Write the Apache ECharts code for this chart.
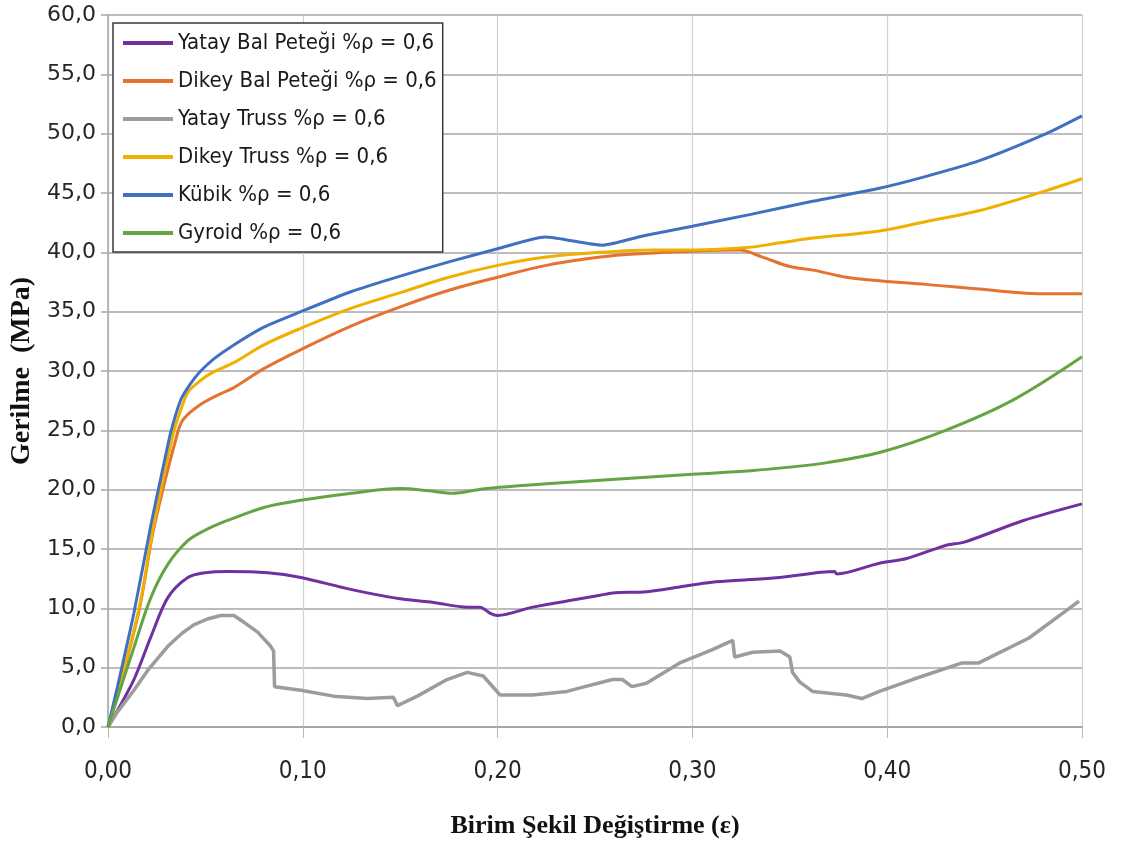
<!DOCTYPE html>
<html>
<head>
<meta charset="utf-8">
<title>Gerilme - Birim Şekil Değiştirme</title>
<script src="https://cdn.jsdelivr.net/npm/echarts@6/dist/echarts.min.js"></script>
<style>
  html, body { margin: 0; padding: 0; background: #ffffff; }
  #chart { width: 1122px; height: 847px; }
</style>
</head>
<body>
<div id="chart"></div>
<script>
// Stress–strain curves, [strain (ε), stress (MPa)]
const seriesNames = [
  'Yatay Bal Peteği %ρ = 0,6',
  'Dikey Bal Peteği %ρ = 0,6',
  'Yatay Truss %ρ = 0,6',
  'Dikey Truss %ρ = 0,6',
  'Kübik %ρ = 0,6',
  'Gyroid %ρ = 0,6'
];

const yatayBalPetegi = [
  [0,0],[0.0133,4.0],[0.022,7.6],[0.0307,10.9],[0.041,12.6],[0.05,13.0],[0.0615,13.1],
  [0.082,13.0],[0.099,12.6],[0.1245,11.6],[0.15,10.8],[0.167,10.5],[0.1844,10.1],
  [0.191,10.1],[0.196,9.6],[0.200,9.4],[0.218,10.1],[0.2423,10.8],[0.2526,11.1],
  [0.259,11.3],[0.2766,11.4],[0.2935,11.8],[0.31,12.2],[0.328,12.4],[0.345,12.6],
  [0.373,13.1],[0.374,12.9],[0.396,13.8],[0.41,14.2],[0.43,15.3],[0.44,15.6],
  [0.47,17.4],[0.50,18.8]
];

const dikeyBalPetegi = [
  [0,0],[0.0154,9.4],[0.0236,16.8],[0.0359,24.9],[0.039,26.0],[0.0477,27.2],[0.058,28.1],
  [0.0646,28.6],[0.08,30.2],[0.099,31.8],[0.125,33.8],[0.15,35.4],[0.175,36.8],
  [0.20,37.9],[0.225,38.9],[0.2526,39.6],[0.275,39.9],[0.30,40.1],[0.324,40.2],
  [0.336,39.6],[0.35,38.8],[0.362,38.5],[0.379,37.9],[0.396,37.6],[0.42,37.3],
  [0.447,36.9],[0.4816,36.5],[0.50,36.5]
];

const yatayTruss = [
  [0,0],[0.005,1.3],[0.0133,3.1],[0.021,4.9],[0.0307,6.8],[0.038,7.9],[0.044,8.6],
  [0.051,9.1],[0.058,9.4],[0.0646,9.4],[0.070,8.8],
  [0.0768,8.0],[0.0835,6.8],[0.085,6.4],[0.0855,3.4],[0.099,3.1],[0.1158,2.6],
  [0.133,2.4],[0.1465,2.5],[0.1486,1.8],[0.1588,2.6],[0.174,4.0],[0.1844,4.6],
  [0.1926,4.3],[0.2013,2.7],[0.218,2.7],[0.2357,3.0],[0.2423,3.3],[0.259,4.0],
  [0.264,4.0],[0.269,3.4],[0.2766,3.7],[0.2935,5.4],[0.31,6.5],[0.3207,7.3],
  [0.3217,5.9],[0.331,6.3],[0.345,6.4],[0.350,5.9],[0.3514,4.6],[0.355,3.8],
  [0.3617,3.0],[0.379,2.7],[0.387,2.4],[0.396,3.0],[0.413,4.0],[0.4385,5.4],
  [0.447,5.4],[0.4728,7.5],[0.4985,10.6]
];

const dikeyTruss = [
  [0,0],[0.0154,9.6],[0.0236,17.1],[0.0338,24.9],[0.038,27.0],[0.041,28.2],[0.046,29.0],
  [0.0528,29.8],[0.0646,30.7],[0.08,32.2],[0.099,33.6],[0.125,35.3],[0.15,36.6],
  [0.175,37.9],[0.20,38.9],[0.225,39.6],[0.2526,40.0],[0.28,40.2],[0.30,40.2],
  [0.328,40.4],[0.345,40.8],[0.362,41.2],[0.396,41.8],[0.42,42.6],[0.447,43.5],
  [0.4816,45.2],[0.50,46.2]
];

const kubik = [
  [0,0],[0.005,3.5],[0.0133,9.6],[0.022,17.0],[0.0287,22.2],[0.0323,24.9],[0.0374,27.6],
  [0.041,28.6],[0.044,29.3],[0.0476,30.0],[0.055,31.1],[0.0646,32.2],[0.08,33.7],
  [0.099,35.0],[0.125,36.7],[0.15,38.0],[0.175,39.2],[0.20,40.3],[0.2244,41.3],
  [0.2536,40.6],[0.275,41.4],[0.30,42.2],[0.33,43.2],[0.3617,44.3],[0.396,45.4],
  [0.42,46.4],[0.447,47.7],[0.4816,50.0],[0.50,51.5]
];

const gyroid = [
  [0,0],[0.0133,6.7],[0.022,10.9],[0.0307,13.7],[0.041,15.7],[0.05,16.6],[0.058,17.2],
  [0.0646,17.6],[0.08,18.5],[0.099,19.1],[0.125,19.7],[0.15,20.1],[0.165,19.9],
  [0.177,19.7],[0.19,20.0],[0.201,20.2],[0.225,20.5],[0.2526,20.8],[0.30,21.3],
  [0.33,21.6],[0.35,21.9],[0.37,22.3],[0.3975,23.2],[0.43,25.0],[0.464,27.5],[0.50,31.2]
];

const seriesData = [yatayBalPetegi, dikeyBalPetegi, yatayTruss, dikeyTruss, kubik, gyroid];
const seriesColors = ['#7030a0', '#e57230', '#9c9c9c', '#f0b000', '#4170c0', '#64a543'];
const seriesSmooth = [0.3, 0.35, false, 0.35, 0.2, 0.35];

const labelFont = '"Liberation Sans Narrow", "DejaVu Sans Condensed", "DejaVu Sans", sans-serif';
const titleFont = '"Liberation Serif", "DejaVu Serif", serif';

const chart = echarts.init(document.getElementById('chart'), null, { renderer: 'canvas' });

chart.setOption({
  animation: false,
  backgroundColor: '#ffffff',
  grid: { left: 107, right: 40, top: 15, bottom: 120, containLabel: false },
  legend: {
    orient: 'vertical',
    left: 113,
    top: 23,
    icon: 'rect',
    itemWidth: 50,
    itemHeight: 4,
    itemGap: 14,
    itemTextGap: 5,
    padding: [8, 6, 7, 10],
    backgroundColor: '#ffffff',
    borderColor: '#3a3a3a',
    borderWidth: 1.5,
    borderRadius: 0,
    textStyle: { fontFamily: labelFont, fontSize: 22, color: '#1a1a1a', lineHeight: 24 },
    data: seriesNames
  },
  xAxis: {
    type: 'value',
    min: 0,
    max: 0.5,
    interval: 0.1,
    name: 'Birim Şekil Değiştirme (ε)',
    nameLocation: 'middle',
    nameGap: 86,
    nameTextStyle: { fontFamily: titleFont, fontWeight: 'bold', fontSize: 26, color: '#111111' },
    axisLine: { show: true, lineStyle: { color: '#a6a6a6', width: 2 } },
    axisTick: { show: true, inside: false, length: 11, lineStyle: { color: '#b8b8b8', width: 1 } },
    axisLabel: {
      margin: 33,
      fontFamily: labelFont,
      fontSize: 24,
      color: '#262626',
      formatter: v => v.toFixed(2).replace('.', ',')
    },
    splitLine: { show: true, lineStyle: { color: '#d0d0d0', width: 1.2 } }
  },
  yAxis: {
    type: 'value',
    min: 0,
    max: 60,
    interval: 5,
    name: 'Gerilme  (MPa)',
    nameLocation: 'middle',
    nameGap: 72,
    nameRotate: 90,
    nameTextStyle: { fontFamily: titleFont, fontWeight: 'bold', fontSize: 28, color: '#111111' },
    axisLine: { show: true, lineStyle: { color: '#a6a6a6', width: 1.5 } },
    axisTick: { show: true, inside: false, length: 7, lineStyle: { color: '#a6a6a6', width: 1.5 } },
    axisLabel: {
      margin: 12,
      fontFamily: '"DejaVu Sans", sans-serif',
      fontSize: 22,
      color: '#262626',
      formatter: v => v.toFixed(1).replace('.', ',')
    },
    splitLine: { show: true, lineStyle: { color: '#a6a6a6', width: 1.5 } }
  },
  series: seriesNames.map((name, i) => ({
    name,
    type: 'line',
    data: seriesData[i],
    showSymbol: false,
    symbol: 'none',
    smooth: seriesSmooth[i],
    color: seriesColors[i],
    lineStyle: { color: seriesColors[i], width: i === 2 ? 3.5 : 3 },
    itemStyle: { color: seriesColors[i] },
    emphasis: { disabled: true }
  }))
});
</script>
</body>
</html>
